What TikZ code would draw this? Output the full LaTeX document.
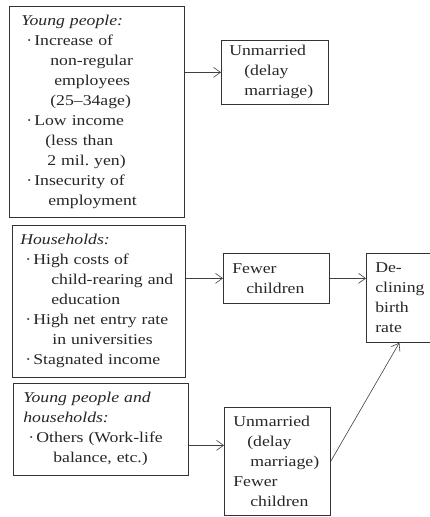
\documentclass[tikz,border=0pt]{standalone}
\usepackage{fontspec}
\setmainfont[FakeStretch=1.18]{Liberation Serif}
\usetikzlibrary{positioning,arrows.meta}
\newcommand{\dotitem}{\makebox[13pt][l]{\hspace{5pt}\textperiodcentered}}
\tikzset{
  causeBox/.style={rectangle, draw=black!80, line width=0.7pt, anchor=north west,
    align=left, inner ysep=0pt, text=black!85, font=\fontsize{15}{20}\selectfont},
  causeArrow/.style={draw=black!75, line width=0.6pt, -{Straight Barb[length=7pt,width=10pt]}}
}
\begin{document}
\begin{tikzpicture}[x=1pt, y=-1pt]
  \useasboundingbox (0,0) rectangle (429,517);
  % left column: causes
  \node [causeBox, inner xsep=12pt, text width=151pt, minimum height=211pt] (youngBox) at (9,6)
    {\textit{Young people:}\\
     \dotitem Increase of\\
     \hspace*{29pt}non-regular\\
     \hspace*{33pt}employees\\
     \hspace*{29pt}(25--34age)\\
     \dotitem Low income\\
     \hspace*{24pt}(less than\\
     \hspace*{26pt}2 mil.\ yen)\\
     \dotitem Insecurity of\\
     \hspace*{27pt}employment};
  \node [causeBox, inner xsep=8pt, text width=157pt, minimum height=152pt] (houseBox) at (12,225)
    {\textit{Households:}\\
     \dotitem High costs of\\
     \hspace*{31pt}child-rearing and\\
     \hspace*{31pt}education\\
     \dotitem High net entry rate\\
     \hspace*{32pt}in universities\\
     \dotitem Stagnated income};
  \node [causeBox, inner xsep=10pt, text width=155pt, minimum height=92pt] (bothBox) at (13,383)
    {\textit{Young people and}\\
     \textit{households:}\\
     \dotitem Others\hspace{5pt}(Work-life\\
     \hspace*{30pt}balance, etc.)};
  % middle column: effects
  \node [causeBox, inner xsep=8pt, text width=91pt, minimum height=64pt] (unmarriedBox) at (221,40)
    {Unmarried\\
     \hspace*{15pt}(delay\\
     \hspace*{15pt}marriage)};
  \node [causeBox, inner xsep=9pt, text width=88pt, minimum height=50pt] (fewerBox) at (223,253)
    {Fewer\\
     \hspace*{14pt}children};
  \node [causeBox, inner xsep=9pt, text width=88pt, minimum height=108pt] (mixBox) at (224,407)
    {Unmarried\\
     \hspace*{14pt}(delay\\
     \hspace*{17pt}marriage)\\
     Fewer\\
     \hspace*{17pt}children};
  % result
  \node [causeBox, inner xsep=9pt, text width=48pt, minimum height=89pt] (birthBox) at (366,253)
    {De-\\clining\\birth\\rate};
  \draw [causeArrow] (youngBox.east |- unmarriedBox.west) -- (unmarriedBox.west);
  \draw [causeArrow] (houseBox.east |- fewerBox.west) -- (fewerBox.west);
  \draw [causeArrow] (fewerBox.east) -- (fewerBox.east -| birthBox.west);
  \draw [causeArrow] ([yshift=-16pt]bothBox.east) -- ([yshift=-16pt]bothBox.east -| mixBox.west);
  \draw [causeArrow] (mixBox.east) -- (birthBox.south);
\end{tikzpicture}
\end{document}
